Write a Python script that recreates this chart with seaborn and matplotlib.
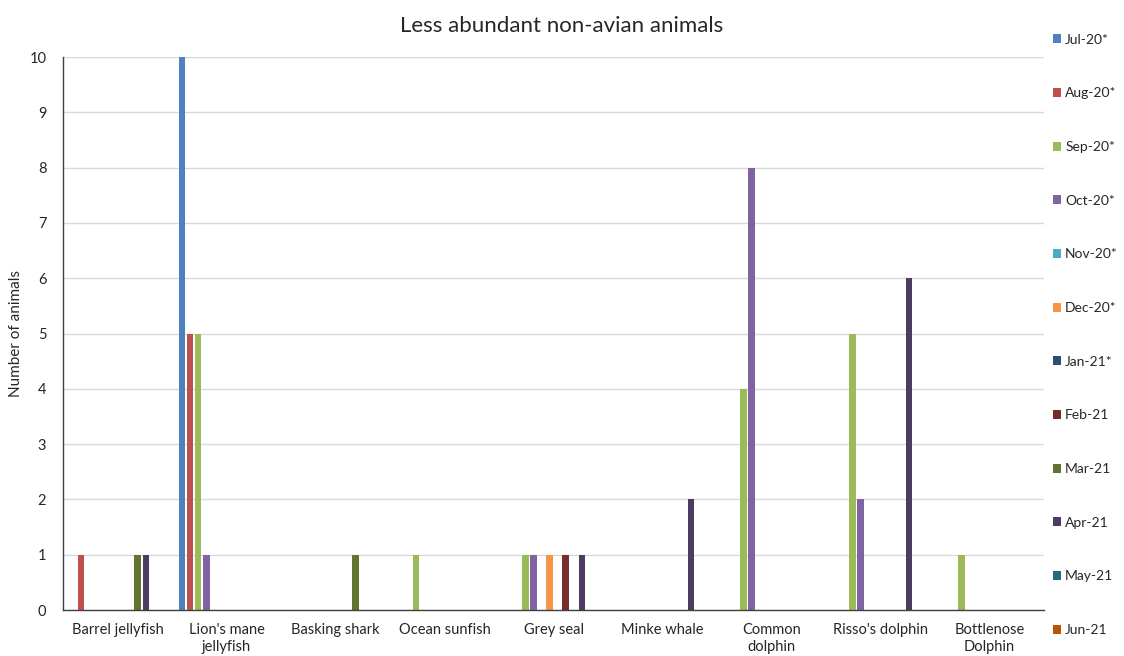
import numpy as np
import pandas as pd

import matplotlib
matplotlib.use("Agg")
import matplotlib.pyplot as plt
import seaborn as sns

sns.set_style("white")
plt.rcParams["font.family"] = ["Lato", "DejaVu Sans"]

animals = [
    "Barrel jellyfish", "Lion's mane\njellyfish", "Basking shark", "Ocean sunfish",
    "Grey seal", "Minke whale", "Common\ndolphin", "Risso's dolphin", "Bottlenose\nDolphin",
]
months = [
    "Jul-20*", "Aug-20*", "Sep-20*", "Oct-20*", "Nov-20*", "Dec-20*",
    "Jan-21*", "Feb-21", "Mar-21", "Apr-21", "May-21", "Jun-21",
]
colors = [
    "#4F81BD", "#C0504D", "#9BBB59", "#8064A2", "#4BACC6", "#F79646",
    "#2C4D75", "#772C2A", "#5F7530", "#4D3B62", "#276A7C", "#B65708",
]

jul20 = [0, 10, 0, 0, 0, 0, 0, 0, 0]
aug20 = [1, 5, 0, 0, 0, 0, 0, 0, 0]
sep20 = [0, 5, 0, 1, 1, 0, 4, 5, 1]
oct20 = [0, 1, 0, 0, 1, 0, 8, 2, 0]
nov20 = [0, 0, 0, 0, 0, 0, 0, 0, 0]
dec20 = [0, 0, 0, 0, 1, 0, 0, 0, 0]
jan21 = [0, 0, 0, 0, 0, 0, 0, 0, 0]
feb21 = [0, 0, 0, 0, 1, 0, 0, 0, 0]
mar21 = [1, 0, 1, 0, 0, 0, 0, 0, 0]
apr21 = [1, 0, 0, 0, 1, 2, 0, 6, 0]
may21 = [0, 0, 0, 0, 0, 0, 0, 0, 0]
jun21 = [0, 0, 0, 0, 0, 0, 0, 0, 0]

series = [jul20, aug20, sep20, oct20, nov20, dec20,
          jan21, feb21, mar21, apr21, may21, jun21]

df = pd.DataFrame(
    [(a, m, v) for m, vals in zip(months, series) for a, v in zip(animals, vals)],
    columns=["animal", "month", "count"],
)

fig = plt.figure(figsize=(11.24, 6.56), dpi=100)
ax = fig.add_axes([0.056, 0.0701, 0.873, 0.843])

sns.barplot(
    data=df, x="animal", y="count", hue="month",
    order=animals, hue_order=months, palette=dict(zip(months, colors)),
    width=0.89, gap=0.2, linewidth=0, saturation=1, ax=ax,
)

ax.set_ylim(0, 10)
ax.set_xlim(-0.5, len(animals) - 0.5)
ax.set_yticks(range(0, 11))
ax.yaxis.grid(True, color="#D9D9D9", linewidth=1)
ax.set_axisbelow(True)
ax.set_xlabel("")
ax.set_ylabel("Number of animals", fontsize=11, labelpad=10)
ax.yaxis.set_label_coords(-0.041, 0.5)
ax.set_title("Less abundant non-avian animals", fontsize=16, pad=18, x=0.508)

for s in ["top", "right"]:
    ax.spines[s].set_visible(False)
for s in ["left", "bottom"]:
    ax.spines[s].set_color("#404040")
    ax.spines[s].set_linewidth(1)

ax.set_xticks(np.arange(-0.5, len(animals)), minor=True)
ax.tick_params(axis="x", which="major", length=0, labelsize=10.5, pad=9)
ax.tick_params(axis="x", which="minor", length=5, color="#404040")
ax.tick_params(axis="y", length=4, color="#404040", labelsize=10.5, pad=8)
ax.tick_params(axis="y", left=False)
for lbl in ax.get_xticklabels():
    lbl.set_linespacing(1.35)

ax.legend(
    loc="upper left", bbox_to_anchor=(1.003, 1.052), frameon=False,
    fontsize=10, labelspacing=3.0, handlelength=0.6, handleheight=0.6,
    handletextpad=0.3, borderaxespad=0,
)

plt.savefig("out.png", dpi=100)
plt.close()
